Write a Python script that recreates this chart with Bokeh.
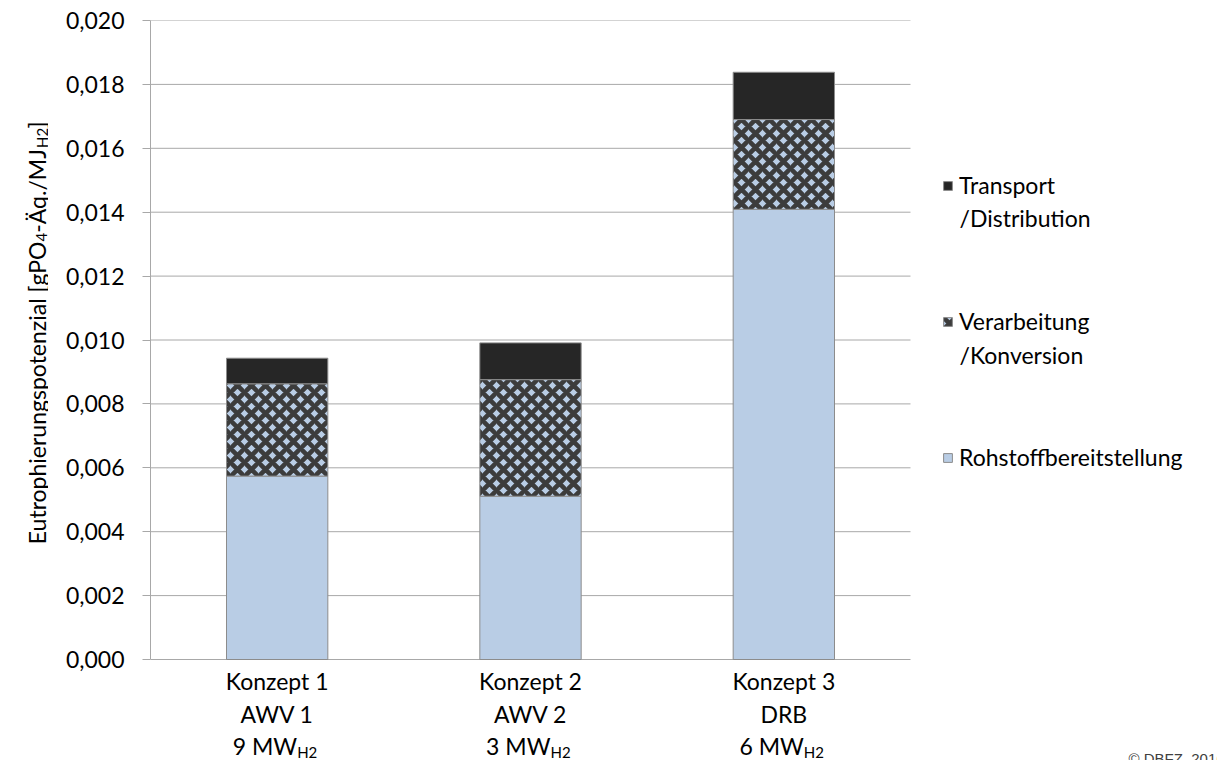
import numpy as np
from bokeh.plotting import figure
from bokeh.layouts import row
from bokeh.models import (Range1d, ColumnDataSource, Legend, LegendItem, Label,
                          FixedTicker, CustomJSTickFormatter)
from bokeh.core.properties import value
from bokeh.embed import file_html
from bokeh.resources import INLINE

# ---------------- data ----------------
categories = ["Konzept 1", "Konzept 2", "Konzept 3"]
plants = ["AWV 1", "AWV 2", "DRB"]
capacities = ["9 MW", "3 MW", "6 MW"]
capacity_sub = ["H2", "H2", "H2"]

rohstoff = [0.00574, 0.00511, 0.01409]
verarbeitung = [0.00289, 0.00365, 0.00281]
transport = [0.00080, 0.00115, 0.00148]

series_first = ["Rohstoffbereitstellung", "Verarbeitung", "Transport"]
series_second = ["", "/Konversion", "/Distribution"]
y_ticks = [0.000, 0.002, 0.004, 0.006, 0.008, 0.010, 0.012, 0.014, 0.016, 0.018, 0.020]
y_title_main = "Eutrophierungspotenzial [gPO"
y_title_rest = ["4", "-Äq./MJ", "H2", "]"]
copyright_text = "© DBFZ, 2016"

# ---------------- style / geometry ----------------
FONT = "Lato"
FS = "23px"
SUB_FS = "15px"
LIGHT = "#B9CDE5"
DARK = "#3C3C3C"
BLACK = "#262626"
EDGE = "#8C8C8C"
GRID = "#A8A8A8"

H = 760
TITLE_W = 48
MAIN_W = 1217 - TITLE_W
LEFT = 150 - TITLE_W    # main fig left border (y axis)
TOP = 20
AREA_W = 760            # plot area width in px
AREA_H = 639            # plot area height in px
n = len(categories)
frame_w = MAIN_W - LEFT
frame_h = H - TOP
y_end = y_ticks[-1]
px_per_y = AREA_H / (y_ticks[-1] - y_ticks[0])
y_start = y_end - frame_h / px_per_y
x_end = n * frame_w / AREA_W


def ydata(canvas_y):
    return y_end - (canvas_y - TOP) / px_per_y


xpos = (np.arange(n) + 0.5).tolist()

# ---------------- main figure ----------------
p = figure(width=MAIN_W, height=H, output_backend="svg", toolbar_location=None,
           x_range=Range1d(0, x_end), y_range=Range1d(y_start, y_end),
           x_axis_location=None,
           min_border_left=LEFT, min_border_right=0, min_border_top=TOP, min_border_bottom=0)
p.outline_line_color = None
p.xgrid.grid_line_color = None
p.ygrid.grid_line_color = None

# horizontal gridlines across the plot area
p.segment(x0=[0] * len(y_ticks), x1=[n] * len(y_ticks), y0=y_ticks, y1=y_ticks,
          line_color=GRID, line_width=1)

src = ColumnDataSource(dict(x=xpos, r=rohstoff, v=verarbeitung, t=transport))
rs = p.vbar_stack(["r", "v", "t"], x="x", width=0.4, source=src,
                  fill_color=[LIGHT, LIGHT, BLACK],
                  hatch_pattern=["blank", "diagonal_cross", "blank"],
                  hatch_color=DARK, hatch_scale=14, hatch_weight=4.6,
                  line_color=EDGE, line_width=1)

# y axis
p.yaxis.ticker = FixedTicker(ticks=y_ticks)
p.yaxis.bounds = (y_ticks[0], y_ticks[-1])
p.yaxis.formatter = CustomJSTickFormatter(code="return tick.toFixed(3).replace('.', ',');")
p.yaxis.major_label_text_font = FONT
p.yaxis.major_label_text_font_size = FS
p.yaxis.major_label_text_color = "black"
p.yaxis.axis_line_color = GRID
p.yaxis.major_tick_line_color = GRID
p.yaxis.major_tick_out = 8
p.yaxis.major_tick_in = 0
p.yaxis.minor_tick_line_color = None
p.yaxis.major_label_standoff = 18

# category labels
lab = ColumnDataSource(dict(x=xpos, cat=categories, plant=plants, cap=capacities, sub=capacity_sub,
                            y1=[ydata(680)] * n, y2=[ydata(713)] * n,
                            y3=[ydata(745)] * n, y4=[ydata(751)] * n))
common = dict(text_font=value(FONT), text_color="black", text_baseline="middle", source=lab)
p.text(x="x", y="y1", text="cat", text_align="center", text_font_size=FS, **common)
p.text(x="x", y="y2", text="plant", text_align="center", text_font_size=FS, **common)
p.text(x="x", y="y3", text="cap", text_align="right", x_offset=20, text_font_size=FS, **common)
p.text(x="x", y="y4", text="sub", text_align="left", x_offset=20, text_font_size=SUB_FS, **common)

# legend (first lines as legend entries, second lines as text beneath them)
LEG_X = 942 - 150
legend = Legend(items=[LegendItem(label=series_first[2], renderers=[rs[2]]),
                       LegendItem(label=series_first[1], renderers=[rs[1]]),
                       LegendItem(label=series_first[0], renderers=[rs[0]])],
                location=(LEG_X, 289))
legend.label_text_font = FONT
legend.label_text_font_size = FS
legend.label_text_color = "black"
legend.glyph_width = 11
legend.glyph_height = 11
legend.label_standoff = 6
legend.spacing = 108
legend.padding = 0
legend.margin = 0
legend.border_line_color = None
legend.background_fill_alpha = 0
p.add_layout(legend)

for txt, cy in [(series_second[2], 217), (series_second[1], 354)]:
    p.add_layout(Label(x=LEG_X + 11 + 6, y=H - cy, x_units="screen", y_units="screen", text=txt,
                       text_font=FONT, text_font_size=FS, text_color="black",
                       text_baseline="middle"))

p.add_layout(Label(x=1128 - 150, y=2, x_units="screen", y_units="screen", text=copyright_text,
                   text_font="Liberation Sans", text_font_size="15px", text_color="#404040",
                   text_baseline="alphabetic"))

# ---------------- y title strip ----------------
t = figure(width=TITLE_W, height=H, output_backend="svg", toolbar_location=None,
           x_range=Range1d(0, TITLE_W), y_range=Range1d(0, H),
           x_axis_location=None, y_axis_location=None, min_border=0)
t.outline_line_color = None
t.grid.grid_line_color = None

J1 = H - 227      # junction after "[gPO"
base_x = 36
sub_dx = 5
rest_adv = [9, 87, 20]   # approx advances of "4", "-Äq./MJ", "H2"
tstyle = dict(angle=np.pi / 2, text_font=value(FONT), text_color="black", text_baseline="alphabetic")
t.text(x=[base_x], y=[J1], text=[y_title_main], text_align="right", text_font_size=FS, **tstyle)
pos = J1
sizes = [SUB_FS, FS, SUB_FS, FS]
for i, part in enumerate(y_title_rest):
    xo = base_x + (sub_dx if sizes[i] == SUB_FS else 0)
    t.text(x=[xo], y=[pos], text=[part], text_align="left", text_font_size=sizes[i], **tstyle)
    if i < len(rest_adv):
        pos += rest_adv[i]

layout = row(t, p, spacing=0)
open("out.html", "w").write(file_html(layout, INLINE))
